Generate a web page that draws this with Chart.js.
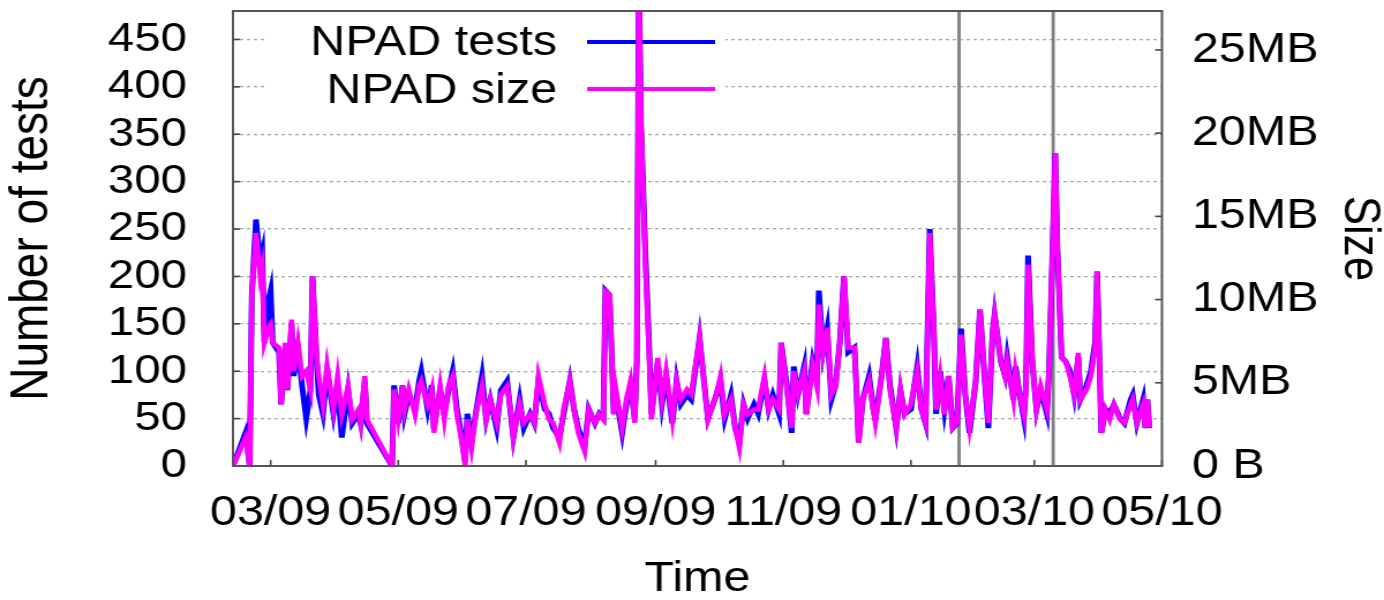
<!DOCTYPE html>
<html>
<head>
<meta charset="utf-8">
<script src="https://cdn.jsdelivr.net/npm/chart.js@4/dist/chart.umd.min.js"></script>
<style>
  html, body { margin: 0; padding: 0; background: #fff; overflow: hidden; }
  /* the source picture is a gnuplot plot stretched sideways, so stretch ours too */
  #wrap { width: 1200px; height: 600px; transform: scaleX(1.15333); transform-origin: 0 0; }
</style>
</head>
<body>
<div id="wrap"><canvas id="myChart"></canvas></div>
<script>
'use strict';
// days counted from 2009-01-01 (day 0)
const days = [41,47,49,50,52,54,55,56,58,59,60,63,64,66,67,69,70,72,74,76,78,79,81,82,84,86,89,91,93,96,98,101,102,104,105,117,118,120,122,123,125,128,130,131,134,136,137,140,142,144,146,148,150,152,153,155,157,160,162,164,167,169,172,174,175,178,180,183,185,187,190,192,194,197,199,202,204,206,209,211,214,216,218,219,221,223,224,227,229,231,233,234,235,236,238,240,241,244,246,248,251,253,255,258,260,264,267,268,272,274,276,279,281,283,285,287,290,292,295,297,299,302,303,306,308,309,311,314,315,318,320,321,323,325,327,329,331,333,335,338,339,340,342,345,347,348,351,353,355,358,360,362,365,368,370,372,374,376,377,379,381,383,385,387,389,391,393,396,398,400,402,404,405,408,410,411,414,415,417,419,420,421,423,425,427,430,431,434,435,437,439,441,443,445,446,449,451,453,454,456,458,460,462,465,467,470,471,473,476,477,478,479];

const npadTests = [0,35,0,180,260,215,225,130,175,185,
  130,120,65,125,80,150,95,125,85,50,
  80,200,110,75,55,100,55,85,30,80,
  45,55,45,90,45,0,85,45,85,55,
  75,60,90,100,60,85,40,80,55,80,
  100,60,35,5,55,25,55,95,50,70,
  40,80,90,50,30,70,40,55,45,90,
  60,55,40,30,55,90,60,40,20,60,
  45,55,50,185,180,55,75,35,65,85,
  50,110,520,360,230,120,55,110,65,95,
  45,90,65,75,70,135,70,50,75,90,
  50,75,40,25,65,50,65,55,90,60,
  75,55,130,80,35,105,75,105,55,110,
  90,185,120,145,70,85,130,200,120,125,
  80,25,70,95,60,50,95,135,85,40,
  80,55,60,105,60,45,250,140,55,100,
  60,95,40,45,145,75,35,90,165,100,
  40,140,160,110,95,115,70,105,75,50,
  85,222,110,60,80,55,100,330,230,115,
  110,100,75,115,70,85,100,130,205,35,
  60,55,65,50,45,70,75,45,70,40,
  70,40];

// MB
const npadSize = [0,1.7,0,10.3,14.0,11.4,12.0,7.4,8.3,8.5,
  7.4,7.1,3.7,7.4,4.6,8.8,5.7,7.4,5.4,5.7,
  4.6,11.4,6.5,5.4,3.7,6.0,3.4,5.4,3.1,4.8,
  2.8,3.4,2.6,5.4,2.8,0,4.6,2.8,4.8,3.4,
  4.6,3.1,4.8,5.1,3.7,4.6,2.0,4.8,2.8,4.8,
  5.4,3.1,1.7,0,2.8,1.1,3.1,4.8,2.8,4.0,
  2.6,4.3,4.8,3.1,1.7,3.7,2.6,3.1,2.6,5.4,
  3.7,2.8,2.6,1.4,3.4,5.1,3.4,2.0,0.9,3.4,
  2.6,3.1,2.8,10.5,10.3,3.1,4.6,2.3,4.0,5.1,
  2.6,6.3,29.0,20.5,12.5,6.3,2.8,6.5,4.0,5.7,
  2.8,5.1,4.0,4.6,4.3,7.7,4.0,2.8,4.3,5.4,
  3.1,4.0,2.3,1.1,3.7,3.1,3.4,3.4,5.4,3.4,
  4.0,3.4,7.4,4.3,2.3,5.7,4.3,5.7,3.1,6.0,
  4.8,9.7,6.8,8.3,4.3,4.8,7.4,11.4,7.1,7.1,
  4.6,1.4,4.0,5.1,3.4,2.6,5.4,7.7,4.6,2.3,
  4.6,3.1,3.7,5.7,3.4,2.6,14.0,8.0,3.4,5.4,
  3.1,5.4,2.3,2.6,7.9,4.3,2.3,5.1,9.4,5.7,
  2.6,8.0,9.1,6.3,5.4,6.3,4.0,5.7,4.3,3.1,
  4.8,12.1,6.3,3.4,4.8,3.4,5.7,18.8,13.1,6.5,
  6.3,5.4,4.3,6.8,4.0,4.6,5.4,7.1,11.7,2.0,
  3.4,2.8,3.7,2.8,2.6,3.7,4.0,2.6,3.7,2.3,
  4.0,2.3];

const monthTicks = [59, 120, 181, 243, 304, 365, 424, 485];
const monthLabels = ['03/09', '05/09', '07/09', '09/09', '11/09', '01/10', '03/10', '05/10'];
const markerDays = [388, 433];
const testTicks = [0, 50, 100, 150, 200, 250, 300, 350, 400, 450];
const sizeTicks = [0, 5, 10, 15, 20, 25];
const seriesNames = ['NPAD tests', 'NPAD size'];
const seriesColors = ['#0000ff', '#ff00ff'];

const FONT = '"Liberation Sans", Arial, Helvetica, sans-serif';

// keep tick-label padding from shrinking the plot area
function noPad(scale) {
  scale.paddingTop = 0;
  scale.paddingBottom = 0;
  scale.paddingLeft = 0;
  scale.paddingRight = 0;
}

const gnuplotBits = {
  id: 'gnuplotBits',
  beforeDatasetsDraw(chart) {
    const ctx = chart.ctx;
    const ca = chart.chartArea;
    const x = chart.scales.x;
    ctx.save();
    // key area has no grid
    ctx.fillStyle = '#fff';
    ctx.fillRect(ca.left + 28, ca.top + 10, 399, 90);
    // vertical markers
    ctx.strokeStyle = '#7f7f7f';
    ctx.lineWidth = 2.8;
    markerDays.forEach(d => {
      const px = x.getPixelForValue(d);
      ctx.beginPath();
      ctx.moveTo(px, ca.top);
      ctx.lineTo(px, ca.bottom);
      ctx.stroke();
    });
    // key
    ctx.font = '42px ' + FONT;
    ctx.textAlign = 'right';
    ctx.textBaseline = 'alphabetic';
    ctx.fillStyle = '#000';
    for (let i = 0; i < seriesNames.length; i++) {
      ctx.fillText(seriesNames[i], ca.left + 281, ca.top + 44 + i * 48);
      ctx.strokeStyle = seriesColors[i];
      ctx.lineWidth = 4;
      ctx.beginPath();
      ctx.moveTo(ca.left + 307, ca.top + 31 + i * 47);
      ctx.lineTo(ca.left + 418, ca.top + 31 + i * 47);
      ctx.stroke();
    }
    ctx.restore();
  },
  afterDraw(chart) {
    const ctx = chart.ctx;
    const ca = chart.chartArea;
    const { x, y, y1 } = chart.scales;
    ctx.save();
    ctx.strokeStyle = '#444';
    ctx.lineWidth = 1.6;
    testTicks.forEach(v => {
      const py = y.getPixelForValue(v);
      ctx.beginPath(); ctx.moveTo(ca.left, py); ctx.lineTo(ca.left + 6, py); ctx.stroke();
    });
    sizeTicks.forEach(v => {
      const py = y1.getPixelForValue(v);
      ctx.beginPath(); ctx.moveTo(ca.right, py); ctx.lineTo(ca.right - 6, py); ctx.stroke();
    });
    monthTicks.forEach(v => {
      const px = x.getPixelForValue(v);
      if (px > ca.right) return;
      ctx.beginPath(); ctx.moveTo(px, ca.bottom); ctx.lineTo(px, ca.bottom - 6); ctx.stroke();
    });
    ctx.strokeStyle = '#555';
    ctx.lineWidth = 2;
    ctx.strokeRect(ca.left, ca.top, ca.right - ca.left, ca.bottom - ca.top);
    ctx.restore();
  }
};

const data = {
  datasets: [
    {
      label: seriesNames[0],
      data: days.map((d, i) => ({ x: d, y: npadTests[i] })),
      borderColor: seriesColors[0],
      borderWidth: 5,
      yAxisID: 'y',
      order: 2,
    },
    {
      label: seriesNames[1],
      data: days.map((d, i) => ({ x: d, y: npadSize[i] })),
      borderColor: seriesColors[1],
      borderWidth: 4.5,
      yAxisID: 'y1',
      order: 1,
    },
  ],
};

const config = {
  type: 'line',
  data: data,
  options: {
    responsive: true,
    maintainAspectRatio: false,
    animation: false,
    layout: { padding: { top: 11, left: 0, right: 0, bottom: 0 }, autoPadding: false },
    elements: {
      point: { radius: 0 },
      line: { tension: 0, borderJoinStyle: 'miter' },
    },
    plugins: {
      legend: { display: false },
      tooltip: { enabled: false },
    },
    scales: {
      x: {
        type: 'linear',
        min: 41,
        max: 485,
        afterBuildTicks: axis => { axis.ticks = monthTicks.map(v => ({ value: v })); },
        afterFit: scale => { scale.height = 134; noPad(scale); },
        grid: { display: false, drawTicks: false },
        border: { display: false },
        ticks: {
          autoSkip: false,
          maxRotation: 0,
          padding: 22,
          color: '#000',
          font: { family: FONT, size: 42 },
          callback: v => monthLabels[monthTicks.indexOf(v)],
        },
        title: {
          display: true,
          text: 'Time',
          color: '#000',
          font: { family: FONT, size: 42, lineHeight: 1 },
          padding: 0,
        },
      },
      y: {
        position: 'left',
        min: 0,
        max: 480,
        afterFit: scale => { scale.width = 202; noPad(scale); },
        ticks: {
          stepSize: 50,
          includeBounds: false,
          autoSkip: false,
          padding: 40,
          color: '#000',
          font: { family: FONT, size: 41 },
        },
        grid: {
          drawTicks: false,
          lineWidth: 1.3,
          color: c => (c.tick && c.tick.value === 0 ? 'rgba(0,0,0,0)' : '#a8a8a8'),
        },
        border: { display: false, dash: [3, 3] },
        title: {
          display: true,
          text: 'Number of tests',
          color: '#000',
          font: { family: FONT, size: 46, lineHeight: 1 },
          padding: { top: 5, bottom: 0 },
        },
      },
      y1: {
        position: 'right',
        min: 0,
        max: 27.34,
        afterFit: scale => { scale.width = 192.5; noPad(scale); },
        ticks: {
          stepSize: 5,
          includeBounds: false,
          autoSkip: false,
          padding: 26,
          color: '#000',
          font: { family: FONT, size: 42 },
          callback: v => (v === 0 ? '0 B' : v + 'MB'),
        },
        grid: { display: false, drawTicks: false },
        border: { display: false },
        title: {
          display: true,
          text: 'Size',
          color: '#000',
          font: { family: FONT, size: 44, lineHeight: 1 },
          padding: { top: 0, bottom: 0 },
        },
      },
    },
  },
  plugins: [gnuplotBits],
};

let canvasChart = document.getElementById('myChart');
const myChart = new Chart(canvasChart, config);
</script>
</body>
</html>
